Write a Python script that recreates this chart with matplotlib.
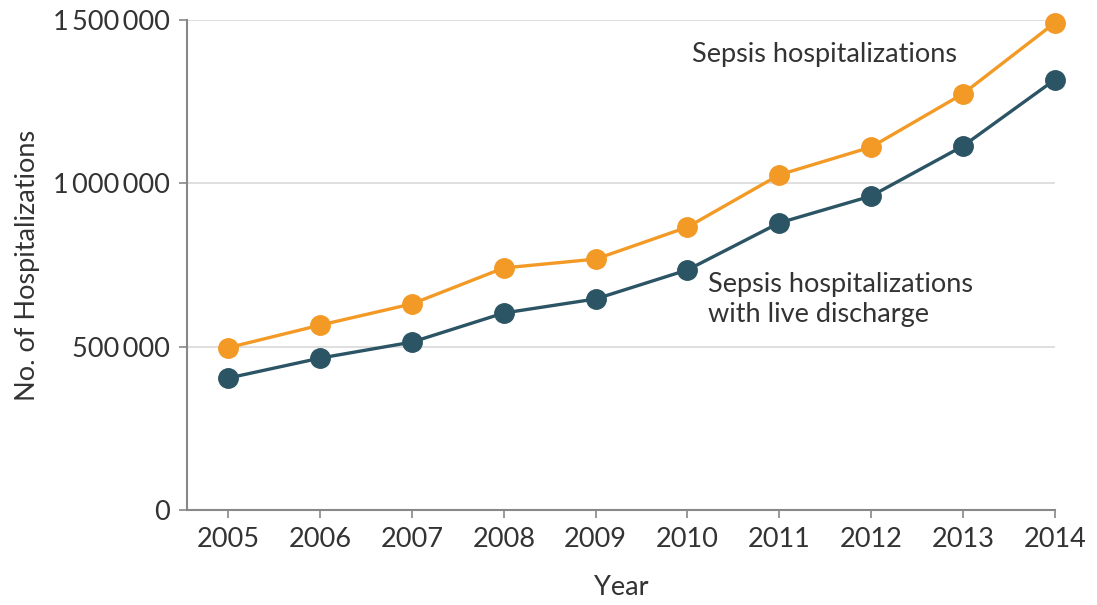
import numpy as np
import matplotlib
matplotlib.use("Agg")
from matplotlib import pyplot as plt
from matplotlib.ticker import FixedLocator

years = [2005, 2006, 2007, 2008, 2009, 2010, 2011, 2012, 2013, 2014]
sepsis_total = [497000, 566000, 631000, 741000, 768000, 866000, 1026000, 1111000, 1274000, 1491000]
sepsis_live = [404000, 465000, 514000, 603000, 646000, 735000, 879000, 961000, 1114000, 1317000]
y_ticks = [0, 500000, 1000000, 1500000]
y_ticklabels = ["0", "500\u2009000", "1\u2009000\u2009000", "1\u2009500\u2009000"]

plt.rcParams['font.family'] = ['Lato', 'DejaVu Sans']
orange = '#f39a26'
teal = '#2b5464'
gray = '#888888'
text_c = '#333333'

fig = plt.figure(figsize=(10.97, 6.05), dpi=100)
ax = fig.add_axes([0.1705, 0.157, 0.791, 0.81])

ax.plot(years, sepsis_total, color=orange, lw=2.4, marker='o', ms=14, clip_on=False, zorder=3)
ax.plot(years, sepsis_live, color=teal, lw=2.4, marker='o', ms=14, clip_on=False, zorder=3)

ax.set_xlim(2004.55, 2014)
ax.set_ylim(0, 1500000)
ax.set_xticks(years)
ax.set_xticklabels([str(y) for y in years])
ax.yaxis.set_major_locator(FixedLocator(y_ticks))
ax.set_yticklabels(y_ticklabels)

for y in y_ticks[1:]:
    ax.axhline(y, color='#d9d9d9', lw=1.2, zorder=1)

for s in ['top', 'right']:
    ax.spines[s].set_visible(False)
for s in ['left', 'bottom']:
    ax.spines[s].set_color(gray)
    ax.spines[s].set_linewidth(1.5)
ax.tick_params(axis='both', colors=gray, length=6, width=1.2, labelsize=19.5, labelcolor=text_c, pad=6)

ax.set_xlabel('Year', fontsize=19.5, color=text_c, labelpad=17)
ax.set_ylabel('No. of Hospitalizations', fontsize=19.5, color=text_c, labelpad=10)

ax.text(2010.05, 1393000, 'Sepsis hospitalizations', fontsize=19.5, color=text_c, va='center', ha='left')
ax.text(2010.22, 645000, 'Sepsis hospitalizations\nwith live discharge', fontsize=19.5, color=text_c,
        va='center', ha='left', linespacing=1.25)

fig.savefig('out.png', dpi=100)
